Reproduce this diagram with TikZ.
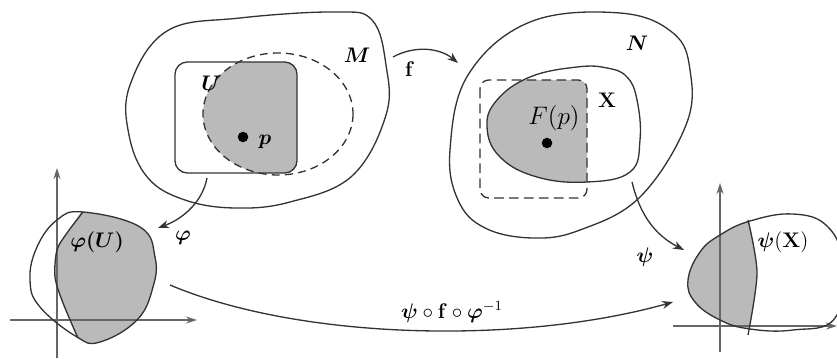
\documentclass[tikz,border=0pt]{standalone}
\usepackage{amsmath, amssymb}
\usepackage{tikz}
\usetikzlibrary{arrows.meta, calc}
\tikzset{
    outline/.style={draw=black!80, line width=0.75pt},
    dashline/.style={draw=black!80, line width=0.75pt, dash pattern=on 4.5pt off 3pt},
    region/.style={fill=black!27},
    arrow/.style={-{Stealth[length=2.2mm, width=1.6mm]}, draw=black!80, line width=0.75pt},
    axis/.style={-{Stealth[length=2.2mm, width=1.4mm]}, draw=black!60, line width=0.7pt},
    lbl/.style={inner sep=1pt, font=\large},
    dot/.style={circle, fill=black, inner sep=0pt, minimum size=6pt},
}

\begin{document}
\begin{tikzpicture}[x=0.02cm, y=-0.02cm]
    \useasboundingbox (0,0) rectangle (837,358);
    \begin{scope}
        \clip[rounded corners=7pt] (175,62) rectangle (297,173);
        \fill[region] (278,114) ellipse [x radius=75, y radius=61];
    \end{scope}
    \begin{scope}
        \clip[rounded corners=5pt] (480,80) rectangle (587,198);
        \fill[region] plot[smooth cycle, tension=0.7] coordinates {(577,67) (530,77) (497,100) (487,127) (500,157) (537,177) (587,182) (630,172) (640,140) (637,100) (627,77) (607,68)};
    \end{scope}
    \begin{scope}
        \clip plot[smooth cycle, tension=0.7] coordinates {(30,280) (37,247) (57,220) (83,212) (140,227) (155,257) (153,287) (137,320) (100,342) (77,337) (40,307)};
        \fill[region] plot[smooth] coordinates {(86,205) (67,233) (57,250) (55,277) (63,303) (80,345)} -- (170,345) -- (170,205) -- cycle;
    \end{scope}
    \begin{scope}
        \clip plot[smooth cycle, tension=0.7] coordinates {(688,280) (700,252) (720,235) (750,221) (793,214) (827,226) (842,262) (835,318) (793,330) (750,329) (720,320) (695,302)};
        \fill[region] plot[smooth] coordinates {(747,212) (757,273) (747,340)} -- (680,340) -- (680,212) -- cycle;
    \end{scope}
    \draw[outline] plot[smooth cycle, tension=0.65] coordinates {(167,31) (240,18) (335,12) (372,20) (386,65) (386,115) (352,176) (290,202) (235,208) (185,200) (148,178) (129,135) (130,85)};
    \draw[outline, rounded corners=7pt] (175,62) rectangle (297,173);
    \draw[dashline] (278,114) ellipse [x radius=75, y radius=61];
    \draw[outline] plot[smooth cycle, tension=0.65] coordinates {(620,13) (673,33) (690,70) (686,125) (640,197) (580,230) (533,238) (485,228) (458,200) (450,150) (468,75) (530,22)};
    \draw[outline] plot[smooth cycle, tension=0.7] coordinates {(577,67) (530,77) (497,100) (487,127) (500,157) (537,177) (587,182) (630,172) (640,140) (637,100) (627,77) (607,68)};
    \draw[dashline, dash pattern=on 5.5pt off 3pt, rounded corners=5pt] (480,80) rectangle (587,198);
    \coordinate (xl) at (10,320);
    \coordinate (xr) at (197,320);
    \coordinate (yb) at (57,358);
    \coordinate (yt) at (57,168);
    \draw[axis] (xl) -- (xr);
    \draw[axis] (yb) -- (yt);
    \draw[outline] plot[smooth cycle, tension=0.7] coordinates {(30,280) (37,247) (57,220) (83,212) (140,227) (155,257) (153,287) (137,320) (100,342) (77,337) (40,307)};
    \draw[outline] plot[smooth] coordinates {(83,212) (67,233) (57,250) (55,277) (63,303) (78,338)};
    \coordinate (ul) at (673,326);
    \coordinate (ur) at (837,326);
    \coordinate (vb) at (720,352);
    \coordinate (vt) at (720,183);
    \draw[axis] (ul) -- (ur);
    \draw[axis] (vb) -- (vt);
    \draw[outline] plot[smooth cycle, tension=0.7] coordinates {(688,280) (700,252) (720,235) (750,221) (793,214) (827,226) (842,262) (835,318) (793,330) (750,329) (720,320) (695,302)};
    \draw[outline] plot[smooth] coordinates {(748,220) (757,273) (748,335)};
    \node[lbl] (m) at (357,55) {$\boldsymbol{M}$};
    \node[lbl] (u) at (211,83) {$\boldsymbol{U}$};
    \node[dot] (pt) at (243,137) {};
    \node[lbl] (p) at (265,142) {$\boldsymbol{p}$};
    \node[lbl] (n) at (637,43) {$\boldsymbol{N}$};
    \node[lbl] (x) at (607,100) {$\mathbf{X}$};
    \node[lbl, font=\Large] (fp) at (554,118) {$F(p)$};
    \node[dot] (fpt) at (547,143) {};
    \node[lbl] (phiu) at (97,242) {$\boldsymbol{\varphi(U)}$};
    \node[lbl] (psix) at (783,242) {$\boldsymbol{\psi}(\mathbf{X})$};
    \coordinate (fs) at (393,57);
    \coordinate (fe) at (458,63);
    \draw[arrow] (fs) .. controls (415,45) and (440,48) .. node[lbl, pos=0.25, below=5pt] (f) {$\mathbf{f}$} (fe);
    \coordinate (phis) at (207,178);
    \coordinate (phie) at (158,228);
    \draw[arrow] (phis) .. controls (203,200) and (185,218) .. (phie);
    \node[lbl] (phi) at (183,238) {$\boldsymbol{\varphi}$};
    \coordinate (psis) at (632,182);
    \coordinate (psie) at (684,250);
    \draw[arrow] (psis) .. controls (640,215) and (655,235) .. (psie);
    \node[lbl] (psi) at (645,257) {$\boldsymbol{\psi}$};
    \coordinate (cs) at (170,285);
    \coordinate (ce) at (673,302);
    \draw[arrow] (cs) .. controls (300,340) and (520,345) .. (ce);
    \node[lbl] (comp) at (452,312) {$\boldsymbol{\psi}\circ\mathbf{f}\circ\boldsymbol{\varphi}^{-1}$};
\end{tikzpicture}
\end{document}
